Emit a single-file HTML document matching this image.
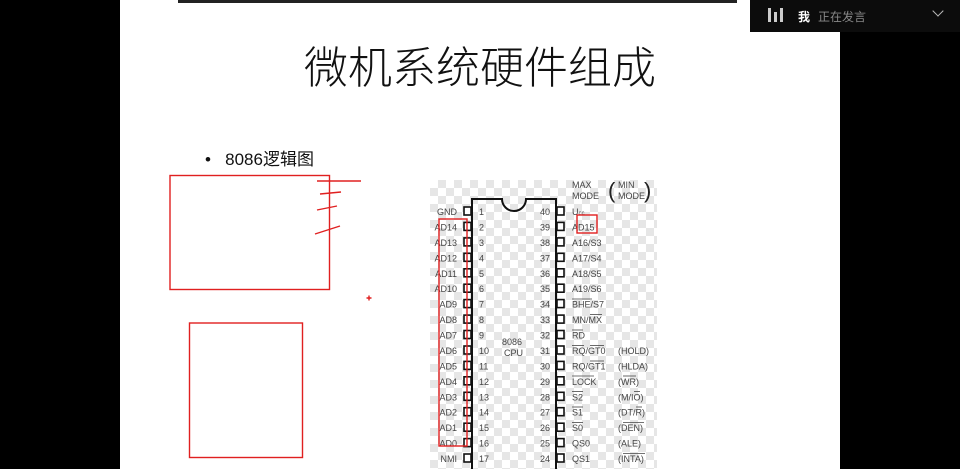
<!DOCTYPE html>
<html><head><meta charset="utf-8"><style>
html,body{margin:0;padding:0;background:#000;width:960px;height:469px;overflow:hidden;position:relative;font-family:"Liberation Sans","Noto Sans CJK SC",sans-serif}
.slide{position:absolute;left:120px;top:0;width:720px;height:469px;background:#fff}
.topline{position:absolute;left:178px;top:0;width:559px;height:3px;background:#222}
.title{position:absolute;left:300px;top:34px;width:360px;text-align:center;font-size:44px;color:#111;font-family:"Noto Sans CJK SC",sans-serif;font-weight:300;letter-spacing:0px;line-height:60px}
.bullet{position:absolute;left:205px;top:145px;font-size:17px;color:#111;font-family:"Liberation Sans","Noto Sans CJK SC",sans-serif}
.checker{position:absolute;left:430px;top:180px;width:227px;height:289px;
background-color:#fff;background-image:linear-gradient(45deg,#e6e6e6 25%,transparent 25%,transparent 75%,#e6e6e6 75%),linear-gradient(45deg,#e6e6e6 25%,transparent 25%,transparent 75%,#e6e6e6 75%);background-size:16px 16px;background-position:0 0,8px 8px}
.overlay{position:absolute;left:750px;top:0;width:210px;height:32px;background:#0c0c0c;color:#ddd;font-size:12px}
svg{position:absolute;left:0;top:0}
</style></head><body>
<div class="slide"></div>
<div class="topline"></div>
<div class="title">微机系统硬件组成</div>
<div class="bullet">•&nbsp;&nbsp;&nbsp;8086逻辑图</div>
<div class="checker"></div>
<div class="overlay">
 <div style="position:absolute;left:18px;top:8px;width:3px;height:14px;background:#ccc"></div>
 <div style="position:absolute;left:24px;top:12px;width:3px;height:10px;background:#ccc"></div>
 <div style="position:absolute;left:30px;top:8px;width:3px;height:14px;background:#ccc"></div>
 <div style="position:absolute;left:48px;top:8px;color:#fff;font-weight:bold;font-size:12px">我</div>
 <div style="position:absolute;left:68px;top:8px;color:#888;font-size:12px">正在发言</div>
 <div style="position:absolute;left:184px;top:7px;width:7px;height:7px;border-right:1.5px solid #bbb;border-bottom:1.5px solid #bbb;transform:rotate(45deg)"></div>
</div>
<svg width="960" height="469" viewBox="0 0 960 469" font-family="Liberation Sans, sans-serif" font-size="9" fill="#444">
 <path d="M472 469 V199 H502 A12 12 0 0 0 526 199 H556 V469" fill="none" stroke="#111" stroke-width="2"/>
 <g fill="#fff" stroke="#111" stroke-width="1.6">
  <rect x="464" y="207" width="7" height="8"/><rect x="464" y="222.4" width="7" height="8"/><rect x="464" y="237.9" width="7" height="8"/><rect x="464" y="253.3" width="7" height="8"/><rect x="464" y="268.8" width="7" height="8"/><rect x="464" y="284.2" width="7" height="8"/><rect x="464" y="299.6" width="7" height="8"/><rect x="464" y="315.1" width="7" height="8"/><rect x="464" y="330.5" width="7" height="8"/><rect x="464" y="346" width="7" height="8"/><rect x="464" y="361.4" width="7" height="8"/><rect x="464" y="376.8" width="7" height="8"/><rect x="464" y="392.3" width="7" height="8"/><rect x="464" y="407.7" width="7" height="8"/><rect x="464" y="423.2" width="7" height="8"/><rect x="464" y="438.6" width="7" height="8"/><rect x="464" y="454" width="7" height="8"/>
  <rect x="557" y="207" width="7" height="8"/><rect x="557" y="222.4" width="7" height="8"/><rect x="557" y="237.9" width="7" height="8"/><rect x="557" y="253.3" width="7" height="8"/><rect x="557" y="268.8" width="7" height="8"/><rect x="557" y="284.2" width="7" height="8"/><rect x="557" y="299.6" width="7" height="8"/><rect x="557" y="315.1" width="7" height="8"/><rect x="557" y="330.5" width="7" height="8"/><rect x="557" y="346" width="7" height="8"/><rect x="557" y="361.4" width="7" height="8"/><rect x="557" y="376.8" width="7" height="8"/><rect x="557" y="392.3" width="7" height="8"/><rect x="557" y="407.7" width="7" height="8"/><rect x="557" y="423.2" width="7" height="8"/><rect x="557" y="438.6" width="7" height="8"/><rect x="557" y="454" width="7" height="8"/>
 </g>
 <g text-anchor="end">
  <text x="457" y="215">GND</text><text x="457" y="230.4">AD14</text><text x="457" y="245.9">AD13</text><text x="457" y="261.3">AD12</text><text x="457" y="276.8">AD11</text><text x="457" y="292.2">AD10</text><text x="457" y="307.6">AD9</text><text x="457" y="323.1">AD8</text><text x="457" y="338.5">AD7</text><text x="457" y="354">AD6</text><text x="457" y="369.4">AD5</text><text x="457" y="384.8">AD4</text><text x="457" y="400.3">AD3</text><text x="457" y="415.7">AD2</text><text x="457" y="431.2">AD1</text><text x="457" y="446.6">AD0</text><text x="457" y="462">NMI</text>
  <text x="550" y="215">40</text><text x="550" y="230.4">39</text><text x="550" y="245.9">38</text><text x="550" y="261.3">37</text><text x="550" y="276.8">36</text><text x="550" y="292.2">35</text><text x="550" y="307.6">34</text><text x="550" y="323.1">33</text><text x="550" y="338.5">32</text><text x="550" y="354">31</text><text x="550" y="369.4">30</text><text x="550" y="384.8">29</text><text x="550" y="400.3">28</text><text x="550" y="415.7">27</text><text x="550" y="431.2">26</text><text x="550" y="446.6">25</text><text x="550" y="462">24</text>
 </g>
 <g>
  <text x="479" y="215">1</text><text x="479" y="230.4">2</text><text x="479" y="245.9">3</text><text x="479" y="261.3">4</text><text x="479" y="276.8">5</text><text x="479" y="292.2">6</text><text x="479" y="307.6">7</text><text x="479" y="323.1">8</text><text x="479" y="338.5">9</text><text x="479" y="354">10</text><text x="479" y="369.4">11</text><text x="479" y="384.8">12</text><text x="479" y="400.3">13</text><text x="479" y="415.7">14</text><text x="479" y="431.2">15</text><text x="479" y="446.6">16</text><text x="479" y="462">17</text>
  <text x="572" y="215">U<tspan font-size="6">cc</tspan></text><text x="572" y="230.4">AD15</text><text x="572" y="245.9">A16/S3</text><text x="572" y="261.3">A17/S4</text><text x="572" y="276.8">A18/S5</text><text x="572" y="292.2">A19/S6</text><text x="572" y="307.6">BHE/S7</text><text x="572" y="323.1">MN/MX</text><text x="572" y="338.5">RD</text><text x="572" y="354">RQ/GT0</text><text x="572" y="369.4">RQ/GT1</text><text x="572" y="384.8">LOCK</text><text x="572" y="400.3">S2</text><text x="572" y="415.7">S1</text><text x="572" y="431.2">S0</text><text x="572" y="446.6">QS0</text><text x="572" y="462">QS1</text>
  <text x="618" y="354">(HOLD)</text><text x="618" y="369.4">(HLDA)</text><text x="618" y="384.8">(WR)</text><text x="618" y="400.3">(M/IO)</text><text x="618" y="415.7">(DT/R)</text><text x="618" y="431.2">(DEN)</text><text x="618" y="446.6">(ALE)</text><text x="618" y="462">(INTA)</text>
  <text x="502" y="345">8086</text><text x="504" y="356">CPU</text>
  <text x="572" y="188">MAX</text><text x="572" y="199">MODE</text>
  <text x="618" y="188">MIN</text><text x="618" y="199">MODE</text>
  <text x="608" y="198" font-size="22" fill="#222">(</text><text x="644" y="198" font-size="22" fill="#222">)</text>
 </g>
 <g stroke="#444" stroke-width="0.8">
  <line x1="572" y1="299" x2="592" y2="299"/><line x1="590" y1="314.5" x2="602" y2="314.5"/><line x1="572" y1="330" x2="583" y2="330"/><line x1="572" y1="345.5" x2="584" y2="345.5"/><line x1="590" y1="345.5" x2="604" y2="345.5"/><line x1="590" y1="361" x2="604" y2="361"/><line x1="572" y1="376" x2="594" y2="376"/><line x1="572" y1="391.5" x2="583" y2="391.5"/><line x1="572" y1="407" x2="583" y2="407"/><line x1="572" y1="422.5" x2="583" y2="422.5"/><line x1="623" y1="376" x2="636" y2="376"/><line x1="634" y1="391.5" x2="640" y2="391.5"/><line x1="636" y1="407" x2="642" y2="407"/><line x1="623" y1="422.5" x2="644" y2="422.5"/><line x1="623" y1="453.5" x2="645" y2="453.5"/>
 </g>
 <g fill="none" stroke="#e02020" stroke-width="1.4">
  <rect x="170" y="175.5" width="159.5" height="114"/>
  <rect x="189.5" y="323" width="113" height="134.5"/>
  <rect x="439" y="219" width="28" height="227"/>
  <rect x="577" y="215" width="20" height="18"/>
  <path d="M317 181 L361 181"/>
  <path d="M320 194 L341 192"/>
  <path d="M317 210 L337 206"/>
  <path d="M315 234 L340 226"/>
  <path d="M366.5 298 H371.5 M369 295.5 V300.5"/>
 </g>
</svg>
</body></html>
